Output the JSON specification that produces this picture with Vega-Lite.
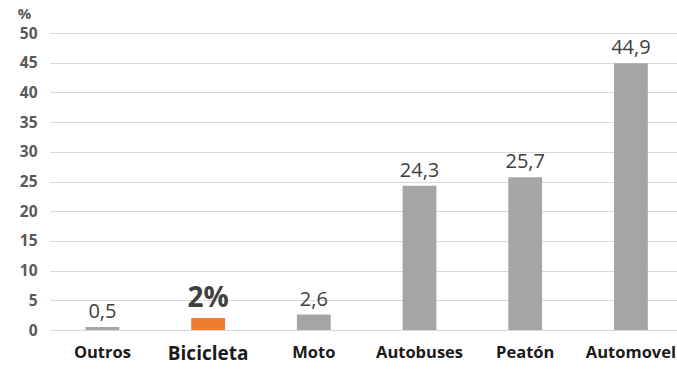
{
  "$schema": "https://vega.github.io/schema/vega-lite/v6.json",
  "width": 627,
  "height": 297,
  "autosize": {"type": "none"},
  "padding": {"left": 50, "top": 33, "right": 0, "bottom": 41},
  "background": "white",
  "config": {"view": {"stroke": null}, "font": "Open Sans"},
  "data": {"values": [
    {"modo": "Outros", "valor": 0.5, "rotulo": "0,5"},
    {"modo": "Bicicleta", "valor": 2, "rotulo": "2%"},
    {"modo": "Moto", "valor": 2.6, "rotulo": "2,6"},
    {"modo": "Autobuses", "valor": 24.3, "rotulo": "24,3"},
    {"modo": "Peatón", "valor": 25.7, "rotulo": "25,7"},
    {"modo": "Automovel", "valor": 44.9, "rotulo": "44,9"}
  ]},
  "encoding": {
    "x": {
      "field": "modo", "type": "nominal", "sort": null,
      "scale": {"paddingInner": 0.68, "paddingOuter": 0.306, "align": 0.549},
      "axis": {
        "title": null, "labelAngle": 0, "domain": false, "ticks": false,
        "labelPadding": 14, "labelFontWeight": "bold", "labelColor": "#1a1a1a",
        "labelFont": "Open Sans",
        "labelFontSize": {"expr": "datum.value === 'Bicicleta' ? 19 : 16.5"}
      }
    },
    "y": {
      "field": "valor", "type": "quantitative",
      "scale": {"domain": [0, 50]},
      "axis": {
        "values": [0, 5, 10, 15, 20, 25, 30, 35, 40, 45, 50],
        "title": "%", "titleAngle": 0, "titleX": -26, "titleY": -15,
        "titleAlign": "center", "titleBaseline": "alphabetic",
        "titleFontSize": 15, "titleFontWeight": "bold", "titleColor": "#595959",
        "titleFont": "Open Sans",
        "domain": false, "ticks": false, "labelPadding": 13,
        "labelFontSize": 15.5, "labelFontWeight": "bold", "labelColor": "#595959",
        "labelFont": "Open Sans",
        "gridColor": "#d9d9d9", "gridWidth": 1
      }
    }
  },
  "layer": [
    {
      "mark": {"type": "bar"},
      "encoding": {
        "color": {
          "condition": {"test": "datum.modo === 'Bicicleta'", "value": "#ed7d31"},
          "value": "#a5a5a5"
        }
      }
    },
    {
      "transform": [{"filter": "datum.modo !== 'Bicicleta'"}],
      "mark": {"type": "text", "baseline": "bottom", "dy": -5, "fontSize": 20, "color": "#404040", "font": "Open Sans"},
      "encoding": {"text": {"field": "rotulo"}}
    },
    {
      "transform": [{"filter": "datum.modo === 'Bicicleta'"}],
      "mark": {"type": "text", "baseline": "bottom", "dy": -5, "fontSize": 28, "fontWeight": "bold", "color": "#404040", "font": "Open Sans"},
      "encoding": {"text": {"field": "rotulo"}}
    }
  ]
}
